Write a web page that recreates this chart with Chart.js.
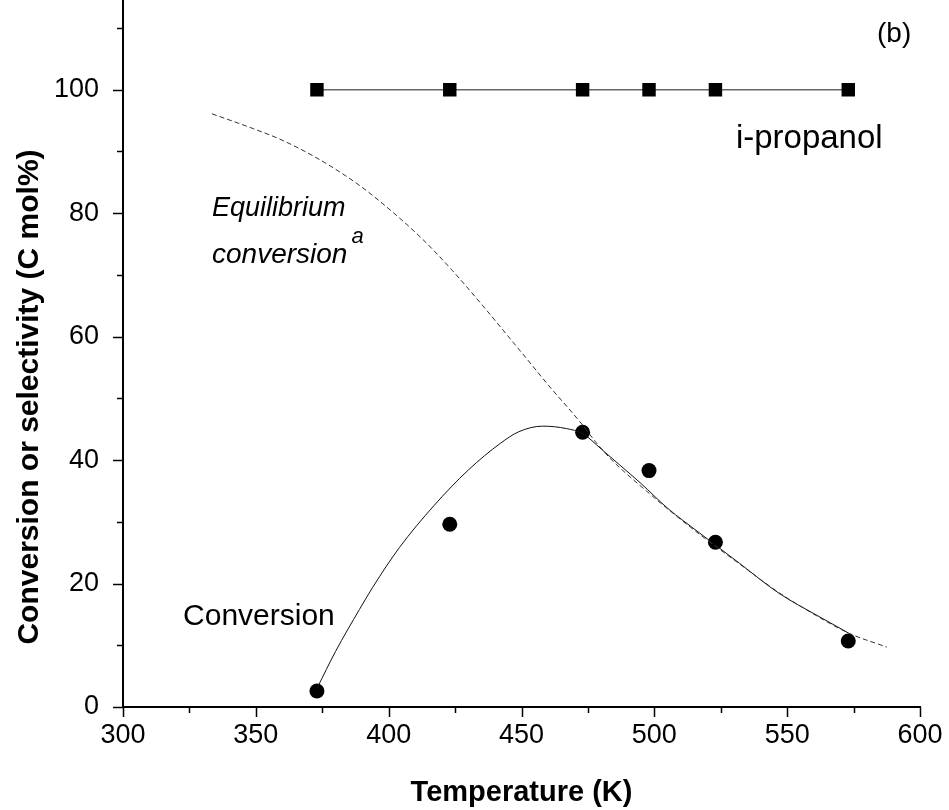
<!DOCTYPE html>
<html>
<head>
<meta charset="utf-8">
<script src="https://cdn.jsdelivr.net/npm/chart.js@4.4.1/dist/chart.umd.min.js"></script>
<style>
  html, body { margin: 0; padding: 0; background: #fff; }
  #wrap { width: 949px; height: 810px; position: relative; }
</style>
</head>
<body>
<div id="wrap"><canvas id="c" width="949" height="810"></canvas></div>
<script>
// ---- data ----
const sampleTemps = [373, 423, 473, 498, 523, 573];
const propanolSelectivity = [100, 100, 100, 100, 100, 100];
const conversionMeasured = [2.6, 29.6, 44.5, 38.3, 26.7, 10.7];

const fitTemps = [373, 380, 389, 394, 404, 417, 430, 442, 449, 458, 467, 473, 480, 487, 495, 505, 517, 532, 547, 561, 573];
const fitConversion = [3.0, 9.0, 15.8, 19.4, 25.8, 32.6, 38.4, 42.7, 44.6, 45.5, 45.1, 44.3, 41.8, 39.2, 36.2, 32.2, 28.2, 23.3, 18.4, 14.9, 12.0];

const eqTemps = [333.5, 349, 359, 371.5, 384, 393, 412, 424, 437, 447, 452, 460, 472, 478, 484, 490, 497, 505, 517, 532, 547, 561, 573, 587.5];
const eqConversion = [96.1, 93.7, 92.0, 89.3, 86.0, 83.2, 76.1, 70.7, 64.2, 59.0, 56.4, 52.2, 46.2, 42.9, 40.0, 37.6, 35.0, 32.1, 28.0, 23.2, 18.5, 14.8, 12.0, 9.7];

const xTickValues = [300, 350, 400, 450, 500, 550, 600];
const yTickValues = [0, 20, 40, 60, 80, 100];
const xTitle = 'Temperature (K)';
const yTitle = 'Conversion or selectivity (C mol%)';

const pts = (xs, ys) => xs.map((x, i) => ({ x: x, y: ys[i] }));
const FONT = '"Liberation Sans", Arial, sans-serif';

const decor = {
  id: 'decor',
  afterDraw(chart) {
    const ctx = chart.ctx;
    const xs = chart.scales.x, ys = chart.scales.y;
    const area = chart.chartArea;
    ctx.save();
    ctx.strokeStyle = '#000';
    ctx.fillStyle = '#000';
    // axis lines
    ctx.lineWidth = 2;
    ctx.beginPath();
    ctx.moveTo(area.left, 0);
    ctx.lineTo(area.left, area.bottom);
    ctx.lineTo(area.right + 1, area.bottom);
    ctx.stroke();
    // ticks
    ctx.lineWidth = 1.5;
    for (let v = 300; v <= 600; v += 25) {
      const px = Math.round(xs.getPixelForValue(v)) + 0.5;
      const len = (v % 50 === 0) ? 10 : 6;
      ctx.beginPath();
      ctx.moveTo(px, area.bottom);
      ctx.lineTo(px, area.bottom + len);
      ctx.stroke();
    }
    for (let v = 0; v <= 110; v += 10) {
      const py = Math.round(ys.getPixelForValue(v)) + 0.5;
      const len = (v % 20 === 0) ? 10 : 6;
      ctx.beginPath();
      ctx.moveTo(area.left, py);
      ctx.lineTo(area.left - len, py);
      ctx.stroke();
    }
    // y title
    ctx.font = 'bold 30px ' + FONT;
    ctx.textAlign = 'center';
    ctx.textBaseline = 'middle';
    ctx.translate(30, 397);
    ctx.rotate(-Math.PI / 2);
    ctx.fillText(yTitle, 0, 0);
    ctx.restore();

    // annotations
    ctx.save();
    ctx.fillStyle = '#000';
    ctx.textBaseline = 'alphabetic';
    ctx.textAlign = 'left';
    const P = (x, y) => [xs.getPixelForValue(x), ys.getPixelForValue(y)];
    let p;
    ctx.font = '28px ' + FONT;
    ctx.fillText('(b)', 877, 42);
    ctx.font = '33px ' + FONT;
    p = P(530.7, 90.6); ctx.fillText('i-propanol', p[0], p[1]);
    ctx.font = '30px ' + FONT;
    p = P(322.6, 13.3); ctx.fillText('Conversion', p[0], p[1]);
    ctx.font = 'italic 27px ' + FONT;
    p = P(333.5, 79.6); ctx.fillText('Equilibrium', p[0], p[1]);
    ctx.font = 'italic 28px ' + FONT;
    p = P(333.5, 72.0); ctx.fillText('conversion', p[0], p[1]);
    ctx.font = 'italic 22px ' + FONT;
    p = P(386, 75.2); ctx.fillText('a', p[0], p[1]);
    ctx.restore();
  }
};

new Chart(document.getElementById('c'), {
  type: 'scatter',
  data: {
    datasets: [
      {
        label: 'Equilibrium conversion',
        data: pts(eqTemps, eqConversion),
        showLine: true,
        borderColor: '#333',
        borderWidth: 1,
        borderDash: [5, 3],
        pointRadius: 0,
        cubicInterpolationMode: 'monotone',
        fill: false
      },
      {
        label: 'Conversion fit',
        data: pts(fitTemps, fitConversion),
        showLine: true,
        borderColor: '#111',
        borderWidth: 1,
        pointRadius: 0,
        cubicInterpolationMode: 'monotone',
        fill: false
      },
      {
        label: 'i-propanol',
        data: pts(sampleTemps, propanolSelectivity),
        showLine: true,
        borderColor: '#666',
        borderWidth: 1.3,
        pointStyle: 'rect',
        pointRadius: 9.5,
        pointBackgroundColor: '#000',
        pointBorderColor: '#000',
        pointBorderWidth: 0
      },
      {
        label: 'Conversion',
        data: pts(sampleTemps, conversionMeasured),
        showLine: false,
        pointStyle: 'circle',
        pointRadius: 7.5,
        pointBackgroundColor: '#000',
        pointBorderColor: '#000',
        pointBorderWidth: 0
      }
    ]
  },
  options: {
    responsive: false,
    animation: false,
    layout: { padding: { left: 0, right: 29, top: 0, bottom: 0 } },
    plugins: { legend: { display: false }, tooltip: { enabled: false } },
    scales: {
      x: {
        type: 'linear',
        min: 300, max: 600,
        afterBuildTicks: (s) => { s.ticks = xTickValues.map(v => ({ value: v })); },
        afterFit: (s) => { s.height = 103; s.paddingLeft = 0; s.paddingRight = 0; },
        grid: { display: false, drawTicks: false },
        border: { display: false },
        ticks: { color: '#000', font: { family: FONT, size: 27 }, padding: 12, maxRotation: 0, autoSkip: false },
        title: { display: true, text: xTitle, color: '#000', font: { family: FONT, size: 29, weight: 'bold' }, padding: { top: 11, bottom: 0 } }
      },
      y: {
        type: 'linear',
        min: 0, max: 113,
        afterBuildTicks: (s) => { s.ticks = yTickValues.map(v => ({ value: v })); },
        afterFit: (s) => { s.width = 123; s.paddingTop = 0; s.paddingBottom = 0; },
        grid: { display: false, drawTicks: false },
        border: { display: false },
        ticks: { color: '#000', font: { family: FONT, size: 27 }, padding: 24, autoSkip: false }
      }
    }
  },
  plugins: [decor]
});
</script>
</body>
</html>
